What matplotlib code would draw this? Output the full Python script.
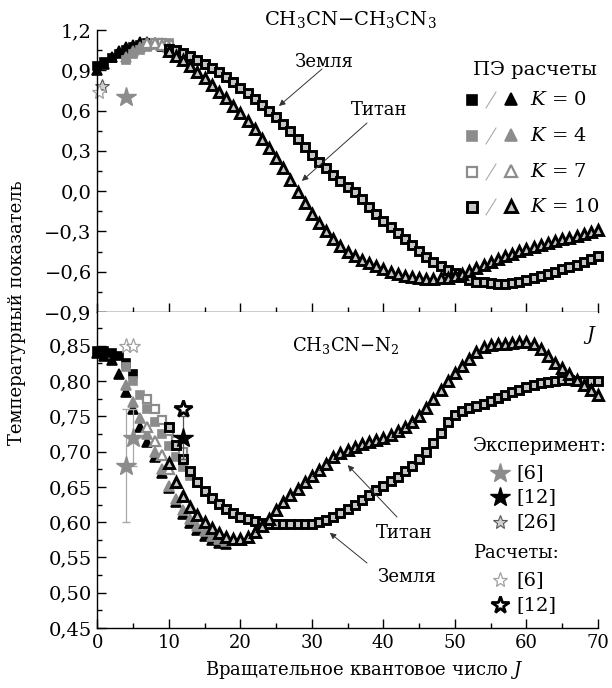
import numpy as np
import matplotlib
matplotlib.use("Agg")
import matplotlib.pyplot as plt
from matplotlib.ticker import MultipleLocator, FuncFormatter
from matplotlib.lines import Line2D

plt.rcParams['font.family'] = ['DejaVu Serif']
plt.rcParams['mathtext.fontset'] = 'dejavuserif'
plt.rcParams['axes.unicode_minus'] = True
FS = 13

# ---------------- data ----------------
# top panel: CH3CN-CH3CN3 ; J values start indices
top_k0_J0, top_k4_J0, top_k7_J0, top_k10_J0 = 0, 4, 7, 10
top_earth_k0 = [0.93, 0.96, 0.99, 1.02, 1.05, 1.07, 1.09, 1.10, 1.10, 1.09]
top_titan_k0 = [0.90, 0.95, 1.00, 1.04, 1.07, 1.09, 1.11, 1.11, 1.10, 1.08]
top_earth_k4 = [0.98, 1.02, 1.05, 1.07, 1.09, 1.10, 1.10]
top_titan_k4 = [1.00, 1.04, 1.07, 1.09, 1.10, 1.10, 1.09]
top_earth_k7 = [1.09, 1.10, 1.10, 1.09]
top_titan_k7 = [1.10, 1.10, 1.09, 1.07]
top_earth_k10 = [1.06, 1.05, 1.03, 1.01, 0.98, 0.95, 0.92, 0.885, 0.85, 0.81,
                 0.77, 0.73, 0.685, 0.64, 0.595, 0.55, 0.50, 0.445, 0.39, 0.33,
                 0.27, 0.22, 0.17, 0.12, 0.075, 0.03, -0.01, -0.06, -0.12, -0.17,
                 -0.22, -0.265, -0.31, -0.36, -0.40, -0.445, -0.49, -0.53, -0.56, -0.585,
                 -0.61, -0.64, -0.665, -0.675, -0.68, -0.685, -0.69, -0.69, -0.685, -0.675,
                 -0.665, -0.65, -0.635, -0.62, -0.60, -0.58, -0.565, -0.55, -0.53, -0.505,
                 -0.48]
top_titan_k10 = [1.04, 1.01, 0.98, 0.93, 0.885, 0.84, 0.79, 0.74, 0.69, 0.635,
                 0.58, 0.52, 0.46, 0.39, 0.32, 0.25, 0.17, 0.08, -0.005, -0.09,
                 -0.17, -0.24, -0.30, -0.36, -0.41, -0.45, -0.485, -0.51, -0.535, -0.56,
                 -0.58, -0.60, -0.615, -0.63, -0.64, -0.65, -0.655, -0.655, -0.65, -0.645,
                 -0.635, -0.615, -0.595, -0.57, -0.55, -0.525, -0.505, -0.485, -0.465, -0.445,
                 -0.43, -0.415, -0.40, -0.385, -0.37, -0.36, -0.35, -0.335, -0.32, -0.305,
                 -0.29]
top_exp6_J, top_exp6_v = [4], [0.70]
top_exp26_J, top_exp26_v = [0.6], [0.78]
top_calc6_J, top_calc6_v = [0.3], [0.74]

# bottom panel: CH3CN-N2
bot_earth_k0 = [0.843, 0.843, 0.840, 0.835, 0.825, 0.81]
bot_titan_k0 = [0.84, 0.835, 0.83, 0.81, 0.785, 0.76, 0.735, 0.713, 0.692, 0.67,
                0.648, 0.628, 0.612, 0.599, 0.589, 0.581, 0.575, 0.571, 0.569]
bot_earth_k4 = [0.82, 0.80, 0.78, 0.76, 0.742, 0.725, 0.708, 0.692, 0.678, 0.665]
bot_titan_k4 = [0.795, 0.77, 0.748, 0.725, 0.70, 0.675, 0.652, 0.633, 0.618, 0.605,
                0.595, 0.587, 0.581, 0.576, 0.573]
bot_earth_k7 = [0.775, 0.76, 0.745, 0.73, 0.715, 0.70]
bot_titan_k7 = [0.735, 0.715, 0.695, 0.675, 0.655, 0.637]
bot_earth_k10 = [0.735, 0.71, 0.69, 0.672, 0.657, 0.644, 0.634, 0.626, 0.619, 0.613,
                 0.608, 0.604, 0.601, 0.599, 0.598, 0.597, 0.597, 0.597, 0.597, 0.598,
                 0.598, 0.600, 0.603, 0.607, 0.613, 0.619, 0.625, 0.632, 0.638, 0.645,
                 0.651, 0.658, 0.664, 0.672, 0.680, 0.689, 0.699, 0.712, 0.727, 0.742,
                 0.752, 0.758, 0.762, 0.765, 0.768, 0.772, 0.776, 0.780, 0.784, 0.788,
                 0.792, 0.795, 0.797, 0.799, 0.800, 0.801, 0.801, 0.800, 0.800, 0.800,
                 0.800]
bot_titan_k10 = [0.684, 0.657, 0.637, 0.622, 0.61, 0.60, 0.592, 0.585, 0.579, 0.576,
                 0.576, 0.579, 0.586, 0.595, 0.605, 0.617, 0.628, 0.638, 0.647, 0.657,
                 0.666, 0.674, 0.683, 0.692, 0.698, 0.703, 0.707, 0.711, 0.714, 0.717,
                 0.720, 0.724, 0.729, 0.735, 0.742, 0.751, 0.762, 0.775, 0.788, 0.800,
                 0.812, 0.822, 0.832, 0.842, 0.848, 0.851, 0.852, 0.853, 0.854, 0.855,
                 0.856, 0.852, 0.845, 0.835, 0.826, 0.818, 0.810, 0.802, 0.795, 0.787,
                 0.780]
bot_exp6_J, bot_exp6_v, bot_exp6_err = [4, 5], [0.68, 0.72], [0.08, 0.04]
bot_exp12_J, bot_exp12_v, bot_exp12_err = [12], [0.72], [0.03]
bot_calc6_J, bot_calc6_v = [4, 5], [0.85, 0.85]
bot_calc12_J, bot_calc12_v = [12], [0.76]

xticks = [0, 10, 20, 30, 40, 50, 60, 70]

# ---------------- styles ----------------
GRAY = '#8c8c8c'
LIGHT = '#c6c6c6'
S_K0 = dict(mfc='black', mec='black', mew=1.2)
S_K4 = dict(mfc=GRAY, mec=GRAY, mew=1.2)
S_K7 = dict(mfc='white', mec=GRAY, mew=1.6)
S_K10 = dict(mfc=LIGHT, mec='black', mew=2.1)
MS_SQ, MS_TR = 6.0, 7.6

W, H = 612, 688
fig = plt.figure(figsize=(W / 100, H / 100), dpi=100)
L, R = 97.3, 598.0


def fx(x):
    return x / W


def fy(y):
    return 1 - y / H


ax1 = fig.add_axes([fx(L), fy(312), (R - L) / W, (312 - 30) / H])
ax2 = fig.add_axes([fx(L), fy(628), (R - L) / W, (628 - 312) / H])


def series(ax, J0, vals, marker, style):
    J = np.arange(J0, J0 + len(vals))
    ms = MS_SQ if marker == 's' else MS_TR
    ax.plot(J, vals, ls='none', marker=marker, ms=ms, clip_on=False, **style)


# top
for e, t, j0, st in [(top_earth_k0, top_titan_k0, top_k0_J0, S_K0),
                     (top_earth_k4, top_titan_k4, top_k4_J0, S_K4),
                     (top_earth_k7, top_titan_k7, top_k7_J0, S_K7),
                     (top_earth_k10, top_titan_k10, top_k10_J0, S_K10)]:
    series(ax1, j0, e, 's', st)
    series(ax1, j0, t, '^', st)
ax1.plot(top_exp6_J, top_exp6_v, ls='none', marker='*', ms=15, mfc=GRAY, mec=GRAY)
ax1.plot(top_exp26_J, top_exp26_v, ls='none', marker='*', ms=10, mfc='#d0d0d0', mec='#555555', mew=0.8, clip_on=False)
ax1.plot(top_calc6_J, top_calc6_v, ls='none', marker='*', ms=11, mfc='white', mec='#a0a0a0', mew=0.9, clip_on=False)

# bottom
series(ax2, 0, bot_earth_k0, 's', S_K0)
series(ax2, 0, bot_titan_k0, '^', S_K0)
series(ax2, 4, bot_earth_k4, 's', S_K4)
series(ax2, 4, bot_titan_k4, '^', S_K4)
series(ax2, 7, bot_earth_k7, 's', S_K7)
series(ax2, 7, bot_titan_k7, '^', S_K7)
series(ax2, 10, bot_earth_k10, 's', S_K10)
series(ax2, 10, bot_titan_k10, '^', S_K10)
ax2.errorbar(bot_exp6_J, bot_exp6_v, yerr=bot_exp6_err, fmt='*', ms=15, mfc=GRAY, mec=GRAY,
             ecolor='#a8a8a8', elinewidth=0.9, capsize=3)
ax2.errorbar(bot_exp12_J, bot_exp12_v, yerr=bot_exp12_err, fmt='*', ms=15, mfc='black', mec='black',
             ecolor='#555555', elinewidth=0.9, capsize=2)
ax2.plot(bot_calc6_J, bot_calc6_v, ls='none', marker='*', ms=11, mfc='white', mec='#a0a0a0', mew=0.9)
ax2.plot(bot_calc12_J, bot_calc12_v, ls='none', marker='*', ms=13, mfc='white', mec='black', mew=2.0)

# axes formatting
for ax in (ax1, ax2):
    ax.set_xlim(0, 70)
    ax.spines['top'].set_visible(False)
    ax.spines['right'].set_visible(False)
    for s in ('left', 'bottom'):
        ax.spines[s].set_linewidth(1.0)
    ax.xaxis.set_major_locator(MultipleLocator(10))
    ax.xaxis.set_minor_locator(MultipleLocator(5))
    ax.tick_params(which='major', direction='in', length=6.5, width=1.0, labelsize=FS, pad=4)
    ax.tick_params(which='minor', direction='in', length=3.5, width=1.0)
    ax.tick_params(top=False, right=False, which='both')
    ax.tick_params(axis='y', labelsize=FS + 1)

ax1.set_ylim(-0.9, 1.2)
ax1.yaxis.set_major_locator(MultipleLocator(0.3))
ax1.yaxis.set_minor_locator(MultipleLocator(0.15))
ax1.yaxis.set_major_formatter(FuncFormatter(lambda v, p: f"{v:.1f}".replace('.', ',').replace('-', '\u2212')))
ax1.tick_params(labelbottom=False)

ax2.set_ylim(0.45, 0.898)
ax2.yaxis.set_major_locator(MultipleLocator(0.05))
ax2.yaxis.set_minor_locator(MultipleLocator(0.025))
ax2.yaxis.set_major_formatter(FuncFormatter(lambda v, p: f"{v:.2f}".replace('.', ',')))
ax2.set_xticks(xticks)
ax2.set_xticklabels([str(x) for x in xticks])

# titles, labels
fig.text(fx(350), fy(20), r'CH$_3$CN$-$CH$_3$CN$_3$', ha='center', va='center', fontsize=FS + 1)
fig.text(fx(346), fy(346), r'CH$_3$CN$-$N$_2$', ha='center', va='center', fontsize=FS)
fig.text(fx(590), fy(335), r'$J$', ha='center', va='center', fontsize=FS + 1)
fig.text(fx(17), fy(313), 'Температурный показатель', rotation=90, ha='center', va='center', fontsize=FS)
fig.text(fx(364), fy(670), r'Вращательное квантовое число $J$', ha='center', va='center', fontsize=FS)

# annotations
arrow = dict(arrowstyle='-|>', color='#333333', lw=0.7, mutation_scale=9, shrinkA=0, shrinkB=0)
fig.text(fx(324), fy(62), 'Земля', ha='center', va='center', fontsize=FS)
ax1.annotate('', xy=(25.4, 0.634), xytext=(fx(322), fy(69)), textcoords='figure fraction', arrowprops=arrow)
fig.text(fx(379), fy(110), 'Титан', ha='center', va='center', fontsize=FS)
ax1.annotate('', xy=(28.6, 0.076), xytext=(fx(367), fy(123)), textcoords='figure fraction', arrowprops=arrow)
fig.text(fx(404), fy(533), 'Титан', ha='center', va='center', fontsize=FS)
ax2.annotate('', xy=(35.0, 0.681), xytext=(fx(397), fy(517)), textcoords='figure fraction', arrowprops=arrow)
fig.text(fx(407), fy(577), 'Земля', ha='center', va='center', fontsize=FS)
ax2.annotate('', xy=(32.5, 0.585), xytext=(fx(367), fy(563)), textcoords='figure fraction', arrowprops=arrow)

# legend top (PE calculations)
fig.text(fx(535), fy(70), 'ПЭ расчеты', ha='center', va='center', fontsize=FS + 1)
leg_rows = [(100, S_K0, '0'), (136, S_K4, '4'), (172, S_K7, '7'), (207, S_K10, '10')]
for y, st, k in leg_rows:
    fig.add_artist(Line2D([fx(472)], [fy(y)], transform=fig.transFigure, marker='s', ms=7, ls='none', **st))
    fig.add_artist(Line2D([fx(486), fx(496)], [fy(y + 8), fy(y - 8)], transform=fig.transFigure, color='#a0a0a0', lw=0.7))
    fig.add_artist(Line2D([fx(511)], [fy(y - 1)], transform=fig.transFigure, marker='^', ms=9, ls='none', **st))
    fig.text(fx(530), fy(y), r'$K$ = ' + k, ha='left', va='center', fontsize=FS + 1)

# legend bottom (experiment / calculations)
fig.text(fx(473), fy(446), 'Эксперимент:', ha='left', va='center', fontsize=FS)
fig.text(fx(473), fy(553), 'Расчеты:', ha='left', va='center', fontsize=FS)
star_rows = [(473, dict(ms=15, mfc=GRAY, mec=GRAY), '[6]'),
             (497, dict(ms=15, mfc='black', mec='black'), '[12]'),
             (522, dict(ms=10, mfc='#d0d0d0', mec='#555555', mew=0.8), '[26]'),
             (580, dict(ms=11, mfc='white', mec='#a0a0a0', mew=0.9), '[6]'),
             (605, dict(ms=13, mfc='white', mec='black', mew=2.0), '[12]')]
for y, st, lab in star_rows:
    fig.add_artist(Line2D([fx(500)], [fy(y)], transform=fig.transFigure, marker='*', ls='none', **st))
    fig.text(fx(516), fy(y), lab, ha='left', va='center', fontsize=FS + 1)

fig.savefig('out.png', dpi=100)
